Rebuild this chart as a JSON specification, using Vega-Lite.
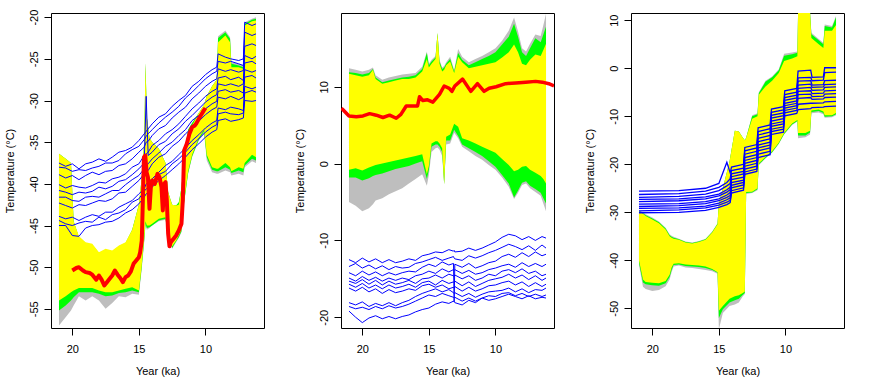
{
"$schema": "https://vega.github.io/schema/vega-lite/v6.json",
"padding": {"left": 3, "top": 8, "right": 26, "bottom": 2},
"background": "white",
"bounds": "flush",
"spacing": 77,
"config": {
  "font": "Liberation Sans",
  "view": {"stroke": "black", "strokeWidth": 1},
  "axis": {"grid": false, "domain": false, "tickColor": "black", "tickSize": 7, "labelFontSize": 11, "titleFontSize": 11, "titleFontWeight": "normal", "labelColor": "black", "titleColor": "black", "labelFont": "Liberation Sans", "titleFont": "Liberation Sans"},
  "axisX": {"labelPadding": 8, "titlePadding": 11},
  "axisY": {"labelAngle": -90, "labelAlign": "center", "labelBaseline": "bottom", "labelPadding": 5, "titlePadding": 13}
},
"datasets": {
"env": [
{"p":1,"x":21,"gl":-57,"nl":-55.2,"yl":-54,"yh":-36.4,"nh":-36.4,"gh":-36.4},
{"p":1,"x":20.5,"gl":-56,"nl":-54.6,"yl":-53.5,"yh":-37,"nh":-37,"gh":-37},
{"p":1,"x":20.1,"gl":-55.2,"nl":-54,"yl":-53,"yh":-37.5,"nh":-37.5,"gh":-37.5},
{"p":1,"x":19.9,"gl":-54.6,"nl":-53.6,"yl":-52.8,"yh":-44.5,"nh":-44.5,"gh":-44.5},
{"p":1,"x":19.5,"gl":-53.5,"nl":-53,"yl":-52.5,"yh":-46.3,"nh":-46.4,"gh":-46.5},
{"p":1,"x":19,"gl":-54,"nl":-53,"yl":-52.5,"yh":-47,"nh":-47.1,"gh":-47.3},
{"p":1,"x":18.5,"gl":-53.5,"nl":-53,"yl":-52.5,"yh":-47.2,"nh":-47.3,"gh":-47.5},
{"p":1,"x":18,"gl":-54,"nl":-53.2,"yl":-52.8,"yh":-48.2,"nh":-48.3,"gh":-48.4},
{"p":1,"x":17.5,"gl":-55,"nl":-53.5,"yl":-53,"yh":-47.8,"nh":-47.9,"gh":-48},
{"p":1,"x":17,"gl":-54.3,"nl":-53.4,"yl":-53,"yh":-48,"nh":-48.1,"gh":-48.2},
{"p":1,"x":16.5,"gl":-53.5,"nl":-53.1,"yl":-52.8,"yh":-47.4,"nh":-47.5,"gh":-47.6},
{"p":1,"x":16,"gl":-53.6,"nl":-53,"yl":-52.6,"yh":-47,"nh":-47.1,"gh":-47.2},
{"p":1,"x":15.5,"gl":-53.2,"nl":-52.8,"yl":-52.4,"yh":-45.5,"nh":-45.5,"gh":-45.5},
{"p":1,"x":15,"gl":-53.3,"nl":-53,"yl":-52.8,"yh":-42.5,"nh":-42.5,"gh":-42.5},
{"p":1,"x":14.8,"gl":-50.5,"nl":-50.2,"yl":-50,"yh":-39.5,"nh":-39.5,"gh":-39.5},
{"p":1,"x":14.6,"gl":-47,"nl":-46.8,"yl":-46.5,"yh":-35,"nh":-35,"gh":-35},
{"p":1,"x":14.5,"gl":-45,"nl":-44.8,"yl":-44.5,"yh":-25.5,"nh":-25.5,"gh":-25.5},
{"p":1,"x":14.4,"gl":-45.5,"nl":-45.3,"yl":-45,"yh":-32,"nh":-32,"gh":-32},
{"p":1,"x":14.2,"gl":-45.3,"nl":-45.2,"yl":-45,"yh":-34.5,"nh":-34.5,"gh":-34.5},
{"p":1,"x":14,"gl":-45,"nl":-45,"yl":-44.8,"yh":-35,"nh":-35,"gh":-35},
{"p":1,"x":13.5,"gl":-44.5,"nl":-44.4,"yl":-44.2,"yh":-35.8,"nh":-35.8,"gh":-35.8},
{"p":1,"x":13,"gl":-44.3,"nl":-44.2,"yl":-44,"yh":-37.5,"nh":-37.5,"gh":-37.5},
{"p":1,"x":12.8,"gl":-46.3,"nl":-46.2,"yl":-46,"yh":-41,"nh":-41,"gh":-41},
{"p":1,"x":12.5,"gl":-47.8,"nl":-47.7,"yl":-47.5,"yh":-42.5,"nh":-42.5,"gh":-42.5},
{"p":1,"x":12.2,"gl":-47,"nl":-46.9,"yl":-46.8,"yh":-42.6,"nh":-42.6,"gh":-42.6},
{"p":1,"x":12,"gl":-46.5,"nl":-46.4,"yl":-46.2,"yh":-42.5,"nh":-42.2,"gh":-42.2},
{"p":1,"x":11.8,"gl":-45.8,"nl":-45.7,"yl":-45.5,"yh":-40.5,"nh":-40.5,"gh":-40.5},
{"p":1,"x":11.6,"gl":-42.3,"nl":-42.2,"yl":-42,"yh":-36.5,"nh":-36.5,"gh":-36.5},
{"p":1,"x":11.3,"gl":-38.8,"nl":-38.7,"yl":-38.5,"yh":-34,"nh":-33.5,"gh":-33.5},
{"p":1,"x":11,"gl":-36.8,"nl":-36.7,"yl":-36.5,"yh":-33,"nh":-32.7,"gh":-32.7},
{"p":1,"x":10.5,"gl":-34.8,"nl":-34.7,"yl":-34.5,"yh":-31.5,"nh":-31.5,"gh":-31.5},
{"p":1,"x":10.1,"gl":-34,"nl":-33.7,"yl":-33.5,"yh":-30.5,"nh":-30.5,"gh":-30.5},
{"p":1,"x":9.9,"gl":-37.2,"nl":-36.8,"yl":-36.5,"yh":-29.5,"nh":-29.5,"gh":-29.5},
{"p":1,"x":9.5,"gl":-38.6,"nl":-38.3,"yl":-38,"yh":-28.3,"nh":-28.3,"gh":-28.3},
{"p":1,"x":9.15,"gl":-38.8,"nl":-38.5,"yl":-38.2,"yh":-27.5,"nh":-27.5,"gh":-27.5},
{"p":1,"x":9.05,"gl":-38.8,"nl":-38.5,"yl":-38.2,"yh":-23,"nh":-22.5,"gh":-22.3},
{"p":1,"x":8.5,"gl":-38.4,"nl":-38,"yl":-37.5,"yh":-22.2,"nh":-21.8,"gh":-21.6},
{"p":1,"x":8.15,"gl":-38.6,"nl":-38.3,"yl":-38,"yh":-23,"nh":-22.6,"gh":-22.4},
{"p":1,"x":8.05,"gl":-39,"nl":-38.7,"yl":-38.5,"yh":-26,"nh":-25.6,"gh":-25.4},
{"p":1,"x":7.5,"gl":-38.8,"nl":-38.4,"yl":-38,"yh":-26,"nh":-25.8,"gh":-25.6},
{"p":1,"x":7.15,"gl":-39,"nl":-38.6,"yl":-38.2,"yh":-26.2,"nh":-26,"gh":-25.8},
{"p":1,"x":7.05,"gl":-38,"nl":-37.8,"yl":-37.5,"yh":-21,"nh":-20.8,"gh":-20.6},
{"p":1,"x":6.5,"gl":-37.3,"nl":-37,"yl":-36.5,"yh":-20.5,"nh":-20.3,"gh":-20.2},
{"p":1,"x":6.2,"gl":-37.5,"nl":-37.2,"yl":-36.8,"yh":-20.4,"nh":-20.2,"gh":-20},
{"p":2,"x":21,"gl":-5,"nl":-1.8,"yl":-0.8,"yh":11.7,"nh":11.9,"gh":12.4},
{"p":2,"x":20.5,"gl":-5.5,"nl":-1.8,"yl":-0.6,"yh":11.5,"nh":11.8,"gh":12.2},
{"p":2,"x":20,"gl":-6.2,"nl":-2.2,"yl":-0.9,"yh":11.3,"nh":11.6,"gh":12},
{"p":2,"x":19.5,"gl":-5.8,"nl":-1.9,"yl":-0.5,"yh":11.5,"nh":11.8,"gh":12.2},
{"p":2,"x":19.2,"gl":-5.3,"nl":-1.6,"yl":-0.3,"yh":12.2,"nh":12.3,"gh":12.5},
{"p":2,"x":19,"gl":-4.8,"nl":-1.5,"yl":-0.2,"yh":11,"nh":11.2,"gh":11.5},
{"p":2,"x":18.5,"gl":-4.5,"nl":-1.3,"yl":0,"yh":10.4,"nh":10.6,"gh":10.9},
{"p":2,"x":18,"gl":-4,"nl":-1,"yl":0.2,"yh":10.6,"nh":10.8,"gh":11.2},
{"p":2,"x":17.5,"gl":-3.6,"nl":-0.7,"yl":0.4,"yh":10.8,"nh":11,"gh":11.4},
{"p":2,"x":17,"gl":-3.2,"nl":-0.5,"yl":0.6,"yh":11,"nh":11.2,"gh":11.6},
{"p":2,"x":16.5,"gl":-2.6,"nl":-0.3,"yl":0.8,"yh":11,"nh":11.3,"gh":11.7},
{"p":2,"x":16,"gl":-2,"nl":0,"yl":1,"yh":11.2,"nh":11.5,"gh":11.8},
{"p":2,"x":15.5,"gl":-1.4,"nl":0.3,"yl":1.2,"yh":12,"nh":12.3,"gh":12.6},
{"p":2,"x":15.15,"gl":-2.9,"nl":-2,"yl":-1.4,"yh":13.6,"nh":14.4,"gh":14.6},
{"p":2,"x":15,"gl":-1.5,"nl":-0.8,"yl":-0.3,"yh":12.5,"nh":12.8,"gh":13},
{"p":2,"x":14.8,"gl":1.5,"nl":2.2,"yl":2.6,"yh":13,"nh":13.3,"gh":13.5},
{"p":2,"x":14.5,"gl":2,"nl":2.5,"yl":2.9,"yh":13.6,"nh":13.8,"gh":14},
{"p":2,"x":14.35,"gl":2.1,"nl":2.5,"yl":2.9,"yh":17,"nh":17,"gh":17},
{"p":2,"x":14.2,"gl":1.8,"nl":2.2,"yl":2.6,"yh":13,"nh":13.3,"gh":13.5},
{"p":2,"x":14,"gl":1,"nl":1.5,"yl":2,"yh":12,"nh":12.3,"gh":12.5},
{"p":2,"x":13.85,"gl":-2.7,"nl":-2.7,"yl":-2.7,"yh":12.2,"nh":12.5,"gh":12.7},
{"p":2,"x":13.7,"gl":2.5,"nl":3,"yl":3.5,"yh":12.8,"nh":13,"gh":13.2},
{"p":2,"x":13.4,"gl":2.6,"nl":3,"yl":3.8,"yh":13.3,"nh":13.6,"gh":13.9},
{"p":2,"x":13.1,"gl":4,"nl":4.4,"yl":5.2,"yh":11.8,"nh":12,"gh":12.2},
{"p":2,"x":12.8,"gl":3.3,"nl":3.6,"yl":4.8,"yh":13.9,"nh":14.4,"gh":14.9},
{"p":2,"x":12.5,"gl":2.2,"nl":2.5,"yl":3.3,"yh":13.2,"nh":13.5,"gh":13.9},
{"p":2,"x":12,"gl":1.6,"nl":2,"yl":3,"yh":12.4,"nh":12.8,"gh":13.2},
{"p":2,"x":11.5,"gl":1,"nl":1.5,"yl":2.6,"yh":12.6,"nh":13.2,"gh":13.6},
{"p":2,"x":11,"gl":0.5,"nl":1,"yl":2.2,"yh":12.8,"nh":13.6,"gh":14},
{"p":2,"x":10.5,"gl":-0.2,"nl":0.3,"yl":1.8,"yh":13,"nh":14,"gh":14.5},
{"p":2,"x":10,"gl":-0.8,"nl":-0.4,"yl":1.4,"yh":13.2,"nh":14.5,"gh":15},
{"p":2,"x":9.5,"gl":-1.8,"nl":-1.5,"yl":0.6,"yh":13.8,"nh":15.5,"gh":16},
{"p":2,"x":9,"gl":-3,"nl":-2.6,"yl":-0.2,"yh":14.5,"nh":16.5,"gh":17.3},
{"p":2,"x":8.6,"gl":-4.6,"nl":-4.4,"yl":-1,"yh":15.5,"nh":18.2,"gh":19},
{"p":2,"x":8.3,"gl":-3.8,"nl":-3.5,"yl":-0.8,"yh":14.5,"nh":16.5,"gh":17.2},
{"p":2,"x":8,"gl":-2.8,"nl":-2.5,"yl":-0.4,"yh":13,"nh":14.5,"gh":15},
{"p":2,"x":7.7,"gl":-2.6,"nl":-2.3,"yl":-0.3,"yh":12.8,"nh":14,"gh":14.6},
{"p":2,"x":7.4,"gl":-3.2,"nl":-2.9,"yl":-0.8,"yh":13.5,"nh":15,"gh":15.6},
{"p":2,"x":7,"gl":-3.7,"nl":-3.3,"yl":-1.2,"yh":14.2,"nh":16.3,"gh":16.8},
{"p":2,"x":6.6,"gl":-4.2,"nl":-3.8,"yl":-1.6,"yh":14,"nh":15.8,"gh":16.6},
{"p":2,"x":6.4,"gl":-5.2,"nl":-4.5,"yl":-2,"yh":14.8,"nh":16.8,"gh":18},
{"p":2,"x":6.2,"gl":-6.2,"nl":-5.2,"yl":-2.6,"yh":15.6,"nh":17.8,"gh":19.5},
{"p":3,"x":21,"gl":-41,"nl":-40.5,"yl":-40,"yh":-29.8,"nh":-29.7,"gh":-29.6},
{"p":3,"x":20.7,"gl":-45.5,"nl":-44.6,"yl":-44,"yh":-30.3,"nh":-30.2,"gh":-30},
{"p":3,"x":20.5,"gl":-46,"nl":-45,"yl":-44.5,"yh":-30.8,"nh":-30.6,"gh":-30.4},
{"p":3,"x":20,"gl":-46.4,"nl":-45.2,"yl":-44.7,"yh":-31.5,"nh":-31.3,"gh":-31.1},
{"p":3,"x":19.5,"gl":-46.2,"nl":-45.3,"yl":-44.8,"yh":-32.3,"nh":-32.1,"gh":-31.9},
{"p":3,"x":19,"gl":-45.4,"nl":-44.8,"yl":-44.3,"yh":-33.6,"nh":-33.4,"gh":-33.2},
{"p":3,"x":18.7,"gl":-44,"nl":-43.5,"yl":-43,"yh":-35,"nh":-34.8,"gh":-34.6},
{"p":3,"x":18.55,"gl":-42.5,"nl":-42,"yl":-41.5,"yh":-35.3,"nh":-35.1,"gh":-34.9},
{"p":3,"x":18.4,"gl":-41.3,"nl":-41,"yl":-40.7,"yh":-35.5,"nh":-35.3,"gh":-35.1},
{"p":3,"x":18,"gl":-41.1,"nl":-40.9,"yl":-40.6,"yh":-35.7,"nh":-35.6,"gh":-35.5},
{"p":3,"x":17.5,"gl":-41.5,"nl":-41.2,"yl":-40.9,"yh":-36.3,"nh":-36.2,"gh":-36.1},
{"p":3,"x":17,"gl":-41.6,"nl":-41.3,"yl":-41,"yh":-36.5,"nh":-36.4,"gh":-36.3},
{"p":3,"x":16.5,"gl":-41.8,"nl":-41.4,"yl":-41.1,"yh":-36.2,"nh":-36.1,"gh":-36},
{"p":3,"x":16,"gl":-42,"nl":-41.6,"yl":-41.3,"yh":-35.7,"nh":-35.6,"gh":-35.5},
{"p":3,"x":15.5,"gl":-42.3,"nl":-42,"yl":-41.8,"yh":-34.2,"nh":-34.1,"gh":-34},
{"p":3,"x":15.1,"gl":-42.8,"nl":-42.6,"yl":-42.5,"yh":-32.5,"nh":-32.4,"gh":-32.3},
{"p":3,"x":15,"gl":-54.4,"nl":-52,"yl":-50.5,"yh":-28,"nh":-28,"gh":-28},
{"p":3,"x":14.7,"gl":-51,"nl":-50.2,"yl":-49.5,"yh":-25,"nh":-25,"gh":-25},
{"p":3,"x":14.2,"gl":-49.5,"nl":-48.8,"yl":-48,"yh":-19.5,"nh":-19.5,"gh":-19.5},
{"p":3,"x":13.8,"gl":-49.2,"nl":-48.3,"yl":-47.5,"yh":-13,"nh":-13,"gh":-13},
{"p":3,"x":13.5,"gl":-48.8,"nl":-48,"yl":-47.3,"yh":-13.2,"nh":-13.2,"gh":-13.2},
{"p":3,"x":13.2,"gl":-47.5,"nl":-47.2,"yl":-46.8,"yh":-14.5,"nh":-14.5,"gh":-14.5},
{"p":3,"x":13.05,"gl":-47,"nl":-46.8,"yl":-46.5,"yh":-15,"nh":-15,"gh":-15},
{"p":3,"x":12.95,"gl":-26.2,"nl":-26,"yl":-25.8,"yh":-14.5,"nh":-14.5,"gh":-14.5},
{"p":3,"x":12.5,"gl":-26,"nl":-25.9,"yl":-25.7,"yh":-10.5,"nh":-10,"gh":-9.8},
{"p":3,"x":12.1,"gl":-25.4,"nl":-25.2,"yl":-25,"yh":-10,"nh":-9.6,"gh":-9.4},
{"p":3,"x":12,"gl":-20.2,"nl":-20,"yl":-19.8,"yh":-5.5,"nh":-5.2,"gh":-5},
{"p":3,"x":11.5,"gl":-18.8,"nl":-18.7,"yl":-18.5,"yh":-3.8,"nh":-2.8,"gh":-2.6},
{"p":3,"x":11,"gl":-17.6,"nl":-17.5,"yl":-17.3,"yh":-2.6,"nh":-1.9,"gh":-1.7},
{"p":3,"x":10.5,"gl":-15.8,"nl":-15.7,"yl":-15.5,"yh":-1,"nh":-0.4,"gh":-0.2},
{"p":3,"x":10.1,"gl":-13.8,"nl":-13.7,"yl":-13.5,"yh":1.5,"nh":2.6,"gh":3},
{"p":3,"x":9.5,"gl":-11.8,"nl":-11.7,"yl":-11.5,"yh":2,"nh":2.9,"gh":3.3},
{"p":3,"x":9.1,"gl":-11.1,"nl":-11,"yl":-10.8,"yh":2.5,"nh":3.2,"gh":3.5},
{"p":3,"x":9.05,"gl":-14.6,"nl":-14,"yl":-13.5,"yh":11.6,"nh":11.6,"gh":11.6},
{"p":3,"x":8.5,"gl":-14.4,"nl":-14,"yl":-13.5,"yh":11.6,"nh":11.6,"gh":11.6},
{"p":3,"x":8.15,"gl":-13.8,"nl":-13.4,"yl":-13,"yh":11.6,"nh":11.6,"gh":11.6},
{"p":3,"x":8.05,"gl":-9.4,"nl":-9.1,"yl":-8.8,"yh":6.3,"nh":7.1,"gh":7.4},
{"p":3,"x":7.5,"gl":-9.2,"nl":-8.9,"yl":-8.6,"yh":5,"nh":5.8,"gh":6.1},
{"p":3,"x":7.15,"gl":-9.6,"nl":-9.3,"yl":-9,"yh":4.2,"nh":5,"gh":5.3},
{"p":3,"x":7.05,"gl":-10.3,"nl":-10.1,"yl":-9.8,"yh":7.8,"nh":8.8,"gh":9.1},
{"p":3,"x":6.5,"gl":-10.2,"nl":-10,"yl":-9.8,"yh":7.8,"nh":8.5,"gh":8.8},
{"p":3,"x":6.2,"gl":-9.8,"nl":-9.6,"yl":-9.3,"yh":9,"nh":10.6,"gh":10.9}
],
"blue": [
{"p":1,"x":21,"b1":-37.5,"b2":-38.0,"b3":-38.9,"b4":-40.1,"b5":-40.8,"b6":-41.6,"b7":-42.3,"b8":-43.9,"b9":-44.4,"b10":-45.0},
{"p":1,"x":20.5,"b1":-37.9,"b2":-38.1,"b3":-39.3,"b4":-40.5,"b5":-41.0,"b6":-41.6,"b7":-42.6,"b8":-44.2,"b9":-44.8,"b10":-45.0},
{"p":1,"x":20,"b1":-37.6,"b2":-38.5,"b3":-39.0,"b4":-40.2,"b5":-41.3,"b6":-42.0,"b7":-42.9,"b8":-44.0,"b9":-45.0,"b10":-46.2},
{"p":1,"x":19.5,"b1":-38.2,"b2":-38.3,"b3":-39.5,"b4":-40.4,"b5":-41.0,"b6":-42.1,"b7":-42.5,"b8":-44.4,"b9":-44.7,"b10":-46.3},
{"p":1,"x":19,"b1":-37.6,"b2":-38.4,"b3":-39.0,"b4":-40.5,"b5":-41.1,"b6":-41.6,"b7":-42.6,"b8":-44.0,"b9":-44.5,"b10":-45.3},
{"p":1,"x":18.5,"b1":-37.4,"b2":-38.1,"b3":-38.6,"b4":-40.2,"b5":-40.9,"b6":-41.5,"b7":-42.3,"b8":-43.7,"b9":-44.6,"b10":-45.0},
{"p":1,"x":18,"b1":-37.0,"b2":-37.9,"b3":-38.9,"b4":-39.8,"b5":-40.4,"b6":-41.6,"b7":-42.0,"b8":-43.9,"b9":-44.0,"b10":-44.9},
{"p":1,"x":17.5,"b1":-37.3,"b2":-37.5,"b3":-38.5,"b4":-39.9,"b5":-40.6,"b6":-41.2,"b7":-42.1,"b8":-43.4,"b9":-44.3,"b10":-44.6},
{"p":1,"x":17,"b1":-36.8,"b2":-37.5,"b3":-38.4,"b4":-39.4,"b5":-40.3,"b6":-40.8,"b7":-41.8,"b8":-43.4,"b9":-43.7,"b10":-44.5},
{"p":1,"x":16.5,"b1":-36.2,"b2":-37.2,"b3":-37.8,"b4":-39.2,"b5":-39.7,"b6":-40.8,"b7":-41.1,"b8":-42.8,"b9":-43.5,"b10":-44.1},
{"p":1,"x":16,"b1":-36.0,"b2":-36.4,"b3":-37.6,"b4":-38.8,"b5":-39.5,"b6":-40.1,"b7":-41.0,"b8":-42.4,"b9":-43.1,"b10":-43.5},
{"p":1,"x":15.5,"b1":-35.6,"b2":-35.9,"b3":-37.0,"b4":-38.0,"b5":-38.9,"b6":-39.5,"b7":-40.3,"b8":-42.0,"b9":-42.2,"b10":-43.1},
{"p":1,"x":15,"b1":-34.8,"b2":-35.5,"b3":-36.2,"b4":-37.6,"b5":-38.2,"b6":-39.0,"b7":-39.6,"b8":-41.2,"b9":-41.8,"b10":-42.4},
{"p":1,"x":14.6,"b1":-34.0,"b2":-34.7,"b3":-35.6,"b4":-36.6,"b5":-37.5,"b6":-38.2,"b7":-38.8,"b8":-40.6,"b9":-40.9,"b10":-41.6},
{"p":1,"x":14.45,"b1":-33.7,"b2":-34.3,"b3":-35.0,"b4":-36.4,"b5":-29.5,"b6":-37.9,"b7":-38.6,"b8":-40.0,"b9":-40.6,"b10":-41.2},
{"p":1,"x":14.3,"b1":-33.4,"b2":-34.0,"b3":-34.9,"b4":-36.2,"b5":-36.6,"b6":-37.6,"b7":-38.4,"b8":-39.8,"b9":-40.5,"b10":-41.0},
{"p":1,"x":14,"b1":-32.8,"b2":-33.5,"b3":-34.2,"b4":-35.4,"b5":-36.2,"b6":-37.0,"b7":-37.6,"b8":-39.4,"b9":-39.7,"b10":-40.4},
{"p":1,"x":13.5,"b1":-32.0,"b2":-32.7,"b3":-33.4,"b4":-34.8,"b5":-35.3,"b6":-36.3,"b7":-36.8,"b8":-38.6,"b9":-38.9,"b10":-39.6},
{"p":1,"x":13,"b1":-31.6,"b2":-32.0,"b3":-33.0,"b4":-34.0,"b5":-34.9,"b6":-35.5,"b7":-36.4,"b8":-37.8,"b9":-38.5,"b10":-39.0},
{"p":1,"x":12.5,"b1":-30.7,"b2":-31.4,"b3":-32.1,"b4":-33.5,"b5":-34.0,"b6":-35.0,"b7":-35.5,"b8":-37.3,"b9":-37.6,"b10":-38.3},
{"p":1,"x":12,"b1":-30.0,"b2":-30.7,"b3":-31.4,"b4":-32.8,"b5":-33.4,"b6":-34.2,"b7":-34.9,"b8":-36.5,"b9":-37.0,"b10":-37.6},
{"p":1,"x":11.5,"b1":-29.4,"b2":-29.7,"b3":-30.8,"b4":-31.9,"b5":-32.5,"b6":-33.5,"b7":-34.0,"b8":-35.7,"b9":-36.2,"b10":-36.8},
{"p":1,"x":11,"b1":-28.3,"b2":-29.0,"b3":-29.8,"b4":-31.0,"b5":-31.8,"b6":-32.4,"b7":-33.3,"b8":-34.8,"b9":-35.3,"b10":-35.9},
{"p":1,"x":10.5,"b1":-27.7,"b2":-28.2,"b3":-29.1,"b4":-30.3,"b5":-31.0,"b6":-31.8,"b7":-32.5,"b8":-34.1,"b9":-34.6,"b10":-35.2},
{"p":1,"x":10,"b1":-26.9,"b2":-27.4,"b3":-28.3,"b4":-29.5,"b5":-30.2,"b6":-31.0,"b7":-31.7,"b8":-33.3,"b9":-33.8,"b10":-34.4},
{"p":1,"x":9.5,"b1":-26.3,"b2":-26.8,"b3":-27.7,"b4":-28.9,"b5":-29.6,"b6":-30.4,"b7":-31.1,"b8":-32.7,"b9":-33.2,"b10":-33.8},
{"p":1,"x":9.15,"b1":-26.0,"b2":-26.5,"b3":-27.4,"b4":-28.6,"b5":-29.3,"b6":-30.1,"b7":-30.8,"b8":-32.4,"b9":-32.9,"b10":-33.5},
{"p":1,"x":9.05,"b1":-24.4,"b2":-25.3,"b3":-26.2,"b4":-27.3,"b5":-28.0,"b6":-28.9,"b7":-29.6,"b8":-30.9,"b9":-31.6,"b10":-32.4},
{"p":1,"x":8.5,"b1":-24.8,"b2":-25.5,"b3":-26.5,"b4":-27.1,"b5":-28.2,"b6":-28.7,"b7":-29.8,"b8":-31.1,"b9":-31.4,"b10":-32.2},
{"p":1,"x":8.1,"b1":-25.0,"b2":-25.3,"b3":-26.3,"b4":-27.5,"b5":-28.0,"b6":-29.0,"b7":-29.5,"b8":-30.8,"b9":-31.6,"b10":-32.5},
{"p":1,"x":7.5,"b1":-25.2,"b2":-25.6,"b3":-26.6,"b4":-27.2,"b5":-28.3,"b6":-28.8,"b7":-29.9,"b8":-31.0,"b9":-31.7,"b10":-32.3},
{"p":1,"x":7.15,"b1":-25.0,"b2":-25.8,"b3":-26.4,"b4":-27.6,"b5":-28.0,"b6":-29.1,"b7":-29.6,"b8":-31.2,"b9":-31.5,"b10":-32.1},
{"p":1,"x":7.05,"b1":-20.6,"b2":-21.8,"b3":-23.5,"b4":-24.6,"b5":-25.5,"b6":-26.3,"b7":-27.2,"b8":-28.3,"b9":-29.1,"b10":-30.0},
{"p":1,"x":6.5,"b1":-21.0,"b2":-22.2,"b3":-23.2,"b4":-25.0,"b5":-25.3,"b6":-26.6,"b7":-27.0,"b8":-28.6,"b9":-28.8,"b10":-30.1},
{"p":1,"x":6.2,"b1":-20.8,"b2":-22.0,"b3":-23.4,"b4":-24.7,"b5":-25.6,"b6":-26.4,"b7":-27.3,"b8":-28.4,"b9":-29.0,"b10":-30.0},
{"p":2,"x":21,"b1":-12.5,"b2":-13.4,"b3":-14.2,"b4":-14.9,"b5":-15.3,"b6":-15.7,"b7":-16.2,"b8":-18.1,"b9":-18.6,"b10":-19.2},
{"p":2,"x":20.5,"b1":-12.9,"b2":-13.0,"b3":-14.6,"b4":-15.3,"b5":-15.6,"b6":-16.1,"b7":-16.6,"b8":-18.4,"b9":-18.9,"b10":-20.0},
{"p":2,"x":20,"b1":-12.3,"b2":-13.6,"b3":-14.0,"b4":-14.7,"b5":-15.1,"b6":-15.6,"b7":-16.1,"b8":-18.0,"b9":-18.7,"b10":-20.7},
{"p":2,"x":19.5,"b1":-12.8,"b2":-13.2,"b3":-14.5,"b4":-15.2,"b5":-15.7,"b6":-16.2,"b7":-16.7,"b8":-18.6,"b9":-19.0,"b10":-20.1},
{"p":2,"x":19,"b1":-12.4,"b2":-13.7,"b3":-14.1,"b4":-14.8,"b5":-15.2,"b6":-15.8,"b7":-16.3,"b8":-18.2,"b9":-18.6,"b10":-19.8},
{"p":2,"x":18.5,"b1":-12.9,"b2":-13.3,"b3":-14.6,"b4":-15.3,"b5":-15.8,"b6":-16.3,"b7":-16.9,"b8":-18.5,"b9":-18.9,"b10":-20.2},
{"p":2,"x":18,"b1":-12.5,"b2":-13.8,"b3":-14.2,"b4":-14.9,"b5":-15.3,"b6":-15.8,"b7":-16.4,"b8":-18.1,"b9":-18.5,"b10":-19.9},
{"p":2,"x":17.5,"b1":-12.9,"b2":-13.4,"b3":-14.5,"b4":-15.2,"b5":-15.7,"b6":-16.2,"b7":-16.8,"b8":-18.5,"b9":-18.8,"b10":-20.2},
{"p":2,"x":17,"b1":-12.7,"b2":-13.6,"b3":-14.2,"b4":-14.9,"b5":-15.5,"b6":-16.0,"b7":-16.6,"b8":-18.1,"b9":-18.6,"b10":-19.9},
{"p":2,"x":16.5,"b1":-12.4,"b2":-13.5,"b3":-14.0,"b4":-15.1,"b5":-15.2,"b6":-15.7,"b7":-16.3,"b8":-17.8,"b9":-18.3,"b10":-19.7},
{"p":2,"x":16,"b1":-12.6,"b2":-13.0,"b3":-14.1,"b4":-14.6,"b5":-15.6,"b6":-16.1,"b7":-16.5,"b8":-17.3,"b9":-17.9,"b10":-19.3},
{"p":2,"x":15.5,"b1":-12.0,"b2":-12.8,"b3":-13.5,"b4":-14.4,"b5":-15.0,"b6":-15.5,"b7":-15.9,"b8":-16.9,"b9":-17.5,"b10":-19.0},
{"p":2,"x":15,"b1":-11.8,"b2":-12.5,"b3":-13.1,"b4":-14.0,"b5":-14.9,"b6":-15.3,"b7":-15.7,"b8":-16.6,"b9":-17.1,"b10":-18.8},
{"p":2,"x":14.5,"b1":-11.5,"b2":-12.2,"b3":-13.4,"b4":-14.3,"b5":-14.5,"b6":-15.8,"b7":-16.1,"b8":-16.3,"b9":-17.3,"b10":-18.3},
{"p":2,"x":14,"b1":-11.6,"b2":-12.6,"b3":-12.8,"b4":-13.7,"b5":-14.9,"b6":-15.2,"b7":-15.8,"b8":-16.7,"b9":-16.9,"b10":-18.0},
{"p":2,"x":13.5,"b1":-11.2,"b2":-12.3,"b3":-13.2,"b4":-14.1,"b5":-14.4,"b6":-15.6,"b7":-16.3,"b8":-16.4,"b9":-17.2,"b10":-18.2},
{"p":2,"x":13.15,"b1":-11.4,"b2":-12.1,"b3":-13.0,"b4":-13.8,"b5":-14.6,"b6":-15.4,"b7":-16.1,"b8":-16.8,"b9":-17.4,"b10":-17.9},
{"p":2,"x":13.1,"b1":-11.3,"b2":-12.3,"b3":-18.0,"b4":-13.9,"b5":-14.7,"b6":-15.5,"b7":-16.2,"b8":-16.9,"b9":-17.5,"b10":-18.0},
{"p":2,"x":13.05,"b1":-11.5,"b2":-12.4,"b3":-13.1,"b4":-13.8,"b5":-14.5,"b6":-15.3,"b7":-16.0,"b8":-16.8,"b9":-17.4,"b10":-18.1},
{"p":2,"x":12.5,"b1":-11.4,"b2":-12.6,"b3":-13.5,"b4":-14.3,"b5":-15.0,"b6":-15.9,"b7":-16.6,"b8":-17.3,"b9":-17.9,"b10":-18.4},
{"p":2,"x":12,"b1":-11.0,"b2":-12.0,"b3":-13.0,"b4":-13.9,"b5":-14.6,"b6":-15.4,"b7":-16.1,"b8":-16.9,"b9":-17.5,"b10":-17.8},
{"p":2,"x":11.5,"b1":-11.3,"b2":-12.3,"b3":-13.6,"b4":-14.4,"b5":-15.2,"b6":-16.0,"b7":-16.6,"b8":-17.4,"b9":-17.9,"b10":-18.1},
{"p":2,"x":11,"b1":-11.0,"b2":-12.0,"b3":-13.3,"b4":-14.2,"b5":-14.9,"b6":-15.6,"b7":-16.3,"b8":-17.0,"b9":-17.5,"b10":-17.5},
{"p":2,"x":10.5,"b1":-10.6,"b2":-11.6,"b3":-12.9,"b4":-13.8,"b5":-14.4,"b6":-15.2,"b7":-15.9,"b8":-16.7,"b9":-17.2,"b10":-17.8},
{"p":2,"x":10,"b1":-10.2,"b2":-11.3,"b3":-12.7,"b4":-13.6,"b5":-14.6,"b6":-15.0,"b7":-15.8,"b8":-16.6,"b9":-17.3,"b10":-17.6},
{"p":2,"x":9.5,"b1":-9.6,"b2":-10.9,"b3":-12.1,"b4":-13.3,"b5":-14.0,"b6":-14.8,"b7":-15.5,"b8":-16.5,"b9":-16.9,"b10":-17.3},
{"p":2,"x":9,"b1":-9.2,"b2":-10.5,"b3":-11.8,"b4":-13.1,"b5":-13.8,"b6":-14.4,"b7":-15.3,"b8":-16.2,"b9":-16.8,"b10":-17.0},
{"p":2,"x":8.5,"b1":-9.4,"b2":-10.8,"b3":-12.2,"b4":-13.5,"b5":-14.2,"b6":-14.9,"b7":-15.8,"b8":-16.7,"b9":-17.2,"b10":-17.3},
{"p":2,"x":8,"b1":-9.9,"b2":-11.2,"b3":-11.6,"b4":-12.9,"b5":-13.7,"b6":-14.5,"b7":-15.4,"b8":-16.3,"b9":-16.9,"b10":-17.6},
{"p":2,"x":7.5,"b1":-9.5,"b2":-10.7,"b3":-12.1,"b4":-13.4,"b5":-14.3,"b6":-15.1,"b7":-16.0,"b8":-16.8,"b9":-17.3,"b10":-17.2},
{"p":2,"x":7,"b1":-10.0,"b2":-11.3,"b3":-11.5,"b4":-13.0,"b5":-14.0,"b6":-14.6,"b7":-15.5,"b8":-16.4,"b9":-17.0,"b10":-17.6},
{"p":2,"x":6.5,"b1":-9.5,"b2":-10.6,"b3":-12.0,"b4":-13.4,"b5":-14.6,"b6":-15.2,"b7":-16.0,"b8":-16.5,"b9":-17.3,"b10":-17.4},
{"p":2,"x":6.2,"b1":-9.7,"b2":-11.0,"b3":-11.8,"b4":-13.1,"b5":-14.4,"b6":-14.9,"b7":-15.7,"b8":-16.2,"b9":-17.1,"b10":-17.5},
{"p":3,"x":21,"b1":-25.6,"b2":-26.3,"b3":-26.9,"b4":-27.3,"b5":-27.8,"b6":-28.3,"b7":-28.8,"b8":-29.2,"b9":-29.7,"b10":-30.1},
{"p":3,"x":18,"b1":-25.5,"b2":-26.1,"b3":-26.7,"b4":-27.2,"b5":-27.6,"b6":-28.2,"b7":-28.6,"b8":-29.1,"b9":-29.5,"b10":-30.0},
{"p":3,"x":16,"b1":-25.0,"b2":-25.6,"b3":-26.2,"b4":-26.8,"b5":-27.2,"b6":-27.8,"b7":-28.2,"b8":-28.7,"b9":-29.1,"b10":-29.6},
{"p":3,"x":15,"b1":-24.0,"b2":-24.8,"b3":-25.5,"b4":-26.2,"b5":-26.6,"b6":-27.2,"b7":-27.6,"b8":-28.1,"b9":-28.5,"b10":-29.0},
{"p":3,"x":14.4,"b1":-19.6,"b2":-23.8,"b3":-24.5,"b4":-25.3,"b5":-25.8,"b6":-26.4,"b7":-26.9,"b8":-27.4,"b9":-27.9,"b10":-28.4},
{"p":3,"x":14.15,"b1":-21.8,"b2":-23.0,"b3":-24.0,"b4":-24.8,"b5":-25.3,"b6":-25.9,"b7":-26.5,"b8":-27.0,"b9":-27.5,"b10":-28.0},
{"p":3,"x":14.05,"b1":-20.6,"b2":-21.3,"b3":-22.0,"b4":-22.6,"b5":-23.2,"b6":-23.8,"b7":-24.4,"b8":-24.9,"b9":-25.5,"b10":-26.0},
{"p":3,"x":13.15,"b1":-20.0,"b2":-20.8,"b3":-21.5,"b4":-22.0,"b5":-22.7,"b6":-23.3,"b7":-23.8,"b8":-24.3,"b9":-24.9,"b10":-25.4},
{"p":3,"x":13.05,"b1":-16.5,"b2":-17.2,"b3":-17.9,"b4":-18.6,"b5":-19.2,"b6":-19.8,"b7":-20.4,"b8":-21.0,"b9":-21.6,"b10":-22.1},
{"p":3,"x":12.15,"b1":-15.9,"b2":-16.6,"b3":-17.3,"b4":-18.0,"b5":-18.6,"b6":-19.2,"b7":-19.8,"b8":-20.4,"b9":-21.0,"b10":-21.5},
{"p":3,"x":12.05,"b1":-12.4,"b2":-13.2,"b3":-13.9,"b4":-14.6,"b5":-15.3,"b6":-16.0,"b7":-16.6,"b8":-17.2,"b9":-17.9,"b10":-18.6},
{"p":3,"x":11.15,"b1":-11.8,"b2":-12.6,"b3":-13.3,"b4":-14.0,"b5":-14.7,"b6":-15.4,"b7":-16.0,"b8":-16.6,"b9":-17.3,"b10":-18.0},
{"p":3,"x":11.05,"b1":-8.5,"b2":-9.2,"b3":-9.8,"b4":-10.4,"b5":-11.0,"b6":-11.6,"b7":-12.1,"b8":-12.7,"b9":-13.2,"b10":-13.8},
{"p":3,"x":10.15,"b1":-8.0,"b2":-8.7,"b3":-9.3,"b4":-9.9,"b5":-10.5,"b6":-11.1,"b7":-11.6,"b8":-12.2,"b9":-12.7,"b10":-13.3},
{"p":3,"x":10.05,"b1":-4.7,"b2":-5.5,"b3":-6.1,"b4":-6.7,"b5":-7.3,"b6":-7.8,"b7":-8.3,"b8":-8.8,"b9":-9.3,"b10":-9.9},
{"p":3,"x":9.15,"b1":-4.2,"b2":-5.0,"b3":-5.6,"b4":-6.2,"b5":-6.8,"b6":-7.3,"b7":-7.8,"b8":-8.3,"b9":-8.8,"b10":-9.4},
{"p":3,"x":9.05,"b1":-0.6,"b2":-2.0,"b3":-2.7,"b4":-3.5,"b5":-4.2,"b6":-4.8,"b7":-5.5,"b8":-6.3,"b9":-7.5,"b10":-8.6},
{"p":3,"x":8.1,"b1":-0.4,"b2":-1.9,"b3":-2.6,"b4":-3.3,"b5":-4.0,"b6":-4.7,"b7":-5.4,"b8":-6.1,"b9":-7.3,"b10":-8.4},
{"p":3,"x":8.0,"b1":-1.9,"b2":-2.6,"b3":-3.5,"b4":-4.0,"b5":-4.6,"b6":-5.3,"b7":-5.9,"b8":-6.5,"b9":-7.3,"b10":-8.2},
{"p":3,"x":7.15,"b1":-1.8,"b2":-2.5,"b3":-3.4,"b4":-3.9,"b5":-4.5,"b6":-5.2,"b7":-5.8,"b8":-6.4,"b9":-7.2,"b10":-8.1},
{"p":3,"x":7.05,"b1":0.1,"b2":-0.9,"b3":-2.6,"b4":-3.4,"b5":-4.0,"b6":-4.7,"b7":-5.4,"b8":-6.1,"b9":-7.0,"b10":-8.0},
{"p":3,"x":6.2,"b1":0.1,"b2":-0.8,"b3":-2.5,"b4":-3.3,"b5":-3.9,"b6":-4.6,"b7":-5.3,"b8":-6.0,"b9":-6.9,"b10":-7.9}
],
"red": [
{"p":1,"x":20.0,"v":-50.4},{"p":1,"x":19.7,"v":-50.1},{"p":1,"x":19.5,"v":-50.0},{"p":1,"x":19.2,"v":-50.4},{"p":1,"x":19.0,"v":-50.6},{"p":1,"x":18.7,"v":-50.7},{"p":1,"x":18.5,"v":-50.9},{"p":1,"x":18.2,"v":-51.5},{"p":1,"x":18.0,"v":-51.0},{"p":1,"x":17.8,"v":-51.5},{"p":1,"x":17.6,"v":-52.2},{"p":1,"x":17.4,"v":-51.8},{"p":1,"x":17.3,"v":-51.6},{"p":1,"x":17.0,"v":-51.0},{"p":1,"x":16.8,"v":-50.4},{"p":1,"x":16.6,"v":-50.9},{"p":1,"x":16.4,"v":-51.3},{"p":1,"x":16.2,"v":-51.8},{"p":1,"x":16.0,"v":-51.2},{"p":1,"x":15.8,"v":-51.0},{"p":1,"x":15.6,"v":-50.5},{"p":1,"x":15.4,"v":-49.6},{"p":1,"x":15.2,"v":-49.2},{"p":1,"x":15.0,"v":-48.8},{"p":1,"x":14.9,"v":-48.2},{"p":1,"x":14.78,"v":-46.8},{"p":1,"x":14.7,"v":-42.0},{"p":1,"x":14.62,"v":-36.8},{"p":1,"x":14.52,"v":-36.6},{"p":1,"x":14.42,"v":-38.6},{"p":1,"x":14.32,"v":-39.2},{"p":1,"x":14.2,"v":-43.0},{"p":1,"x":14.1,"v":-40.4},{"p":1,"x":14.0,"v":-39.6},{"p":1,"x":13.8,"v":-40.0},{"p":1,"x":13.6,"v":-38.8},{"p":1,"x":13.45,"v":-39.2},{"p":1,"x":13.3,"v":-40.4},{"p":1,"x":13.2,"v":-43.2},{"p":1,"x":13.1,"v":-40.0},{"p":1,"x":13.0,"v":-39.8},{"p":1,"x":12.9,"v":-42.0},{"p":1,"x":12.8,"v":-46.0},{"p":1,"x":12.7,"v":-47.5},{"p":1,"x":12.6,"v":-47.0},{"p":1,"x":12.5,"v":-46.8},{"p":1,"x":12.3,"v":-46.4},{"p":1,"x":12.2,"v":-46.2},{"p":1,"x":12.0,"v":-45.6},{"p":1,"x":11.8,"v":-44.8},{"p":1,"x":11.7,"v":-42.0},{"p":1,"x":11.6,"v":-36.0},{"p":1,"x":11.5,"v":-35.6},{"p":1,"x":11.4,"v":-35.2},{"p":1,"x":11.2,"v":-34.0},{"p":1,"x":11.0,"v":-33.2},{"p":1,"x":10.8,"v":-33.0},{"p":1,"x":10.7,"v":-32.8},{"p":1,"x":10.5,"v":-32.2},{"p":1,"x":10.2,"v":-31.4},{"p":1,"x":10.0,"v":-30.9},
{"p":2,"x":21.57,"v":7.2},{"p":2,"x":21.45,"v":7.0},{"p":2,"x":21.0,"v":6.2},{"p":2,"x":20.45,"v":6.1},{"p":2,"x":19.95,"v":6.2},{"p":2,"x":19.45,"v":6.5},{"p":2,"x":18.95,"v":6.3},{"p":2,"x":18.45,"v":6.0},{"p":2,"x":17.95,"v":6.3},{"p":2,"x":17.45,"v":5.9},{"p":2,"x":17.1,"v":6.4},{"p":2,"x":16.7,"v":7.5},{"p":2,"x":15.85,"v":7.5},{"p":2,"x":15.7,"v":8.7},{"p":2,"x":15.45,"v":8.2},{"p":2,"x":15.1,"v":8.3},{"p":2,"x":14.7,"v":8.0},{"p":2,"x":14.2,"v":9.0},{"p":2,"x":13.85,"v":10.1},{"p":2,"x":13.47,"v":9.8},{"p":2,"x":13.27,"v":9.4},{"p":2,"x":13.05,"v":10.1},{"p":2,"x":12.47,"v":11.0},{"p":2,"x":11.85,"v":9.4},{"p":2,"x":11.35,"v":10.4},{"p":2,"x":10.85,"v":9.4},{"p":2,"x":10.47,"v":9.8},{"p":2,"x":9.95,"v":10.0},{"p":2,"x":9.23,"v":10.4},{"p":2,"x":8.48,"v":10.5},{"p":2,"x":7.73,"v":10.6},{"p":2,"x":6.98,"v":10.7},{"p":2,"x":6.48,"v":10.6},{"p":2,"x":5.99,"v":10.4},{"p":2,"x":5.6,"v":10.1}
]
},
"hconcat": [
{
 "width": 213, "height": 315,
 "encoding": {"x": {"field": "x", "type": "quantitative", "scale": {"domain": [5.6, 21.6], "reverse": true, "nice": false, "zero": false}, "axis": {"values": [20, 15, 10], "title": "Year (ka)"}}},
 "layer": [
  {"data": {"name": "env"}, "transform": [{"filter": "datum.p == 1"}], "mark": {"type": "area", "color": "#BEBEBE", "clip": true},
   "encoding": {"y": {"field": "gl", "type": "quantitative", "scale": {"domain": [-57.3, -19.5], "nice": false, "zero": false}, "axis": {"values": [-55, -50, -45, -40, -35, -30, -25, -20], "title": "Temperature (°C)", "labelExpr": "toString(datum.value)"}}, "y2": {"field": "gh"}}},
  {"data": {"name": "env"}, "transform": [{"filter": "datum.p == 1"}], "mark": {"type": "area", "color": "#00FF00", "clip": true},
   "encoding": {"y": {"field": "nl", "type": "quantitative", "scale": {"domain": [-57.3, -19.5], "nice": false, "zero": false}, "axis": {"values": [-55, -50, -45, -40, -35, -30, -25, -20], "title": "Temperature (°C)", "labelExpr": "toString(datum.value)"}}, "y2": {"field": "nh"}}},
  {"data": {"name": "env"}, "transform": [{"filter": "datum.p == 1"}], "mark": {"type": "area", "color": "#FFFF00", "clip": true},
   "encoding": {"y": {"field": "yl", "type": "quantitative", "scale": {"domain": [-57.3, -19.5], "nice": false, "zero": false}, "axis": {"values": [-55, -50, -45, -40, -35, -30, -25, -20], "title": "Temperature (°C)", "labelExpr": "toString(datum.value)"}}, "y2": {"field": "yh"}}},
  {"data": {"name": "blue"}, "transform": [{"filter": "datum.p == 1"}, {"fold": ["b1","b2","b3","b4","b5","b6","b7","b8","b9","b10"], "as": ["line", "v"]}], "mark": {"type": "line", "color": "#0000FF", "strokeWidth": 1, "clip": true},
   "encoding": {"y": {"field": "v", "type": "quantitative", "scale": {"domain": [-57.3, -19.5], "nice": false, "zero": false}, "axis": {"values": [-55, -50, -45, -40, -35, -30, -25, -20], "title": "Temperature (°C)", "labelExpr": "toString(datum.value)"}}, "detail": {"field": "line"}}},
  {"data": {"name": "red"}, "transform": [{"filter": "datum.p == 1"}], "mark": {"type": "line", "color": "#FF0000", "strokeWidth": 4, "strokeJoin": "round", "clip": true},
   "encoding": {"y": {"field": "v", "type": "quantitative", "scale": {"domain": [-57.3, -19.5], "nice": false, "zero": false}, "axis": {"values": [-55, -50, -45, -40, -35, -30, -25, -20], "title": "Temperature (°C)", "labelExpr": "toString(datum.value)"}}}}
 ]
},
{
 "width": 213, "height": 315,
 "encoding": {"x": {"field": "x", "type": "quantitative", "scale": {"domain": [5.6, 21.6], "reverse": true, "nice": false, "zero": false}, "axis": {"values": [20, 15, 10], "title": "Year (ka)"}}},
 "layer": [
  {"data": {"name": "env"}, "transform": [{"filter": "datum.p == 2"}], "mark": {"type": "area", "color": "#BEBEBE", "clip": true},
   "encoding": {"y": {"field": "gl", "type": "quantitative", "scale": {"domain": [-21.4, 19.6], "nice": false, "zero": false}, "axis": {"values": [-20, -10, 0, 10], "title": "Temperature (°C)", "labelExpr": "toString(datum.value)"}}, "y2": {"field": "gh"}}},
  {"data": {"name": "env"}, "transform": [{"filter": "datum.p == 2"}], "mark": {"type": "area", "color": "#00FF00", "clip": true},
   "encoding": {"y": {"field": "nl", "type": "quantitative", "scale": {"domain": [-21.4, 19.6], "nice": false, "zero": false}, "axis": {"values": [-20, -10, 0, 10], "title": "Temperature (°C)", "labelExpr": "toString(datum.value)"}}, "y2": {"field": "nh"}}},
  {"data": {"name": "env"}, "transform": [{"filter": "datum.p == 2"}], "mark": {"type": "area", "color": "#FFFF00", "clip": true},
   "encoding": {"y": {"field": "yl", "type": "quantitative", "scale": {"domain": [-21.4, 19.6], "nice": false, "zero": false}, "axis": {"values": [-20, -10, 0, 10], "title": "Temperature (°C)", "labelExpr": "toString(datum.value)"}}, "y2": {"field": "yh"}}},
  {"data": {"name": "blue"}, "transform": [{"filter": "datum.p == 2"}, {"fold": ["b1","b2","b3","b4","b5","b6","b7","b8","b9","b10"], "as": ["line", "v"]}], "mark": {"type": "line", "color": "#0000FF", "strokeWidth": 1, "clip": true},
   "encoding": {"y": {"field": "v", "type": "quantitative", "scale": {"domain": [-21.4, 19.6], "nice": false, "zero": false}, "axis": {"values": [-20, -10, 0, 10], "title": "Temperature (°C)", "labelExpr": "toString(datum.value)"}}, "detail": {"field": "line"}}},
  {"data": {"name": "red"}, "transform": [{"filter": "datum.p == 2"}], "mark": {"type": "line", "color": "#FF0000", "strokeWidth": 3.5, "strokeJoin": "round", "clip": true},
   "encoding": {"y": {"field": "v", "type": "quantitative", "scale": {"domain": [-21.4, 19.6], "nice": false, "zero": false}, "axis": {"values": [-20, -10, 0, 10], "title": "Temperature (°C)", "labelExpr": "toString(datum.value)"}}}}
 ]
},
{
 "width": 213, "height": 315,
 "encoding": {"x": {"field": "x", "type": "quantitative", "scale": {"domain": [5.6, 21.6], "reverse": true, "nice": false, "zero": false}, "axis": {"values": [20, 15, 10], "title": "Year (ka)"}}},
 "layer": [
  {"data": {"name": "env"}, "transform": [{"filter": "datum.p == 3"}], "mark": {"type": "area", "color": "#BEBEBE", "clip": true},
   "encoding": {"y": {"field": "gl", "type": "quantitative", "scale": {"domain": [-54.1, 11.5], "nice": false, "zero": false}, "axis": {"values": [-50, -40, -30, -20, -10, 0, 10], "title": "Temperature (°C)", "labelExpr": "toString(datum.value)"}}, "y2": {"field": "gh"}}},
  {"data": {"name": "env"}, "transform": [{"filter": "datum.p == 3"}], "mark": {"type": "area", "color": "#00FF00", "clip": true},
   "encoding": {"y": {"field": "nl", "type": "quantitative", "scale": {"domain": [-54.1, 11.5], "nice": false, "zero": false}, "axis": {"values": [-50, -40, -30, -20, -10, 0, 10], "title": "Temperature (°C)", "labelExpr": "toString(datum.value)"}}, "y2": {"field": "nh"}}},
  {"data": {"name": "env"}, "transform": [{"filter": "datum.p == 3"}], "mark": {"type": "area", "color": "#FFFF00", "clip": true},
   "encoding": {"y": {"field": "yl", "type": "quantitative", "scale": {"domain": [-54.1, 11.5], "nice": false, "zero": false}, "axis": {"values": [-50, -40, -30, -20, -10, 0, 10], "title": "Temperature (°C)", "labelExpr": "toString(datum.value)"}}, "y2": {"field": "yh"}}},
  {"data": {"name": "blue"}, "transform": [{"filter": "datum.p == 3"}, {"fold": ["b1","b2","b3","b4","b5","b6","b7","b8","b9","b10"], "as": ["line", "v"]}], "mark": {"type": "line", "color": "#0000FF", "strokeWidth": 1.3, "clip": true},
   "encoding": {"y": {"field": "v", "type": "quantitative", "scale": {"domain": [-54.1, 11.5], "nice": false, "zero": false}, "axis": {"values": [-50, -40, -30, -20, -10, 0, 10], "title": "Temperature (°C)", "labelExpr": "toString(datum.value)"}}, "detail": {"field": "line"}}}
 ]
}
]
}
